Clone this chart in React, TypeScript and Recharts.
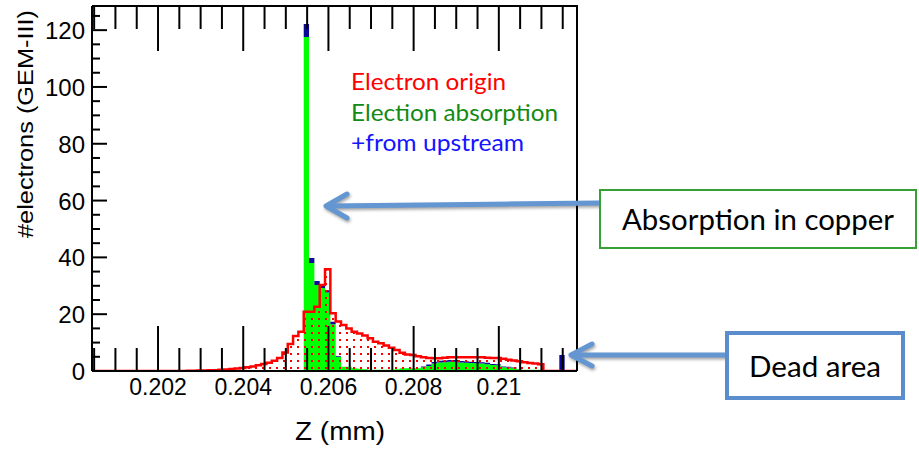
import React from 'react';
import { ComposedChart, Area, XAxis, YAxis } from 'recharts';

// ---------- data ----------
const BIN_START = 0.20042;
const BIN_WIDTH = 0.000125;

const electronOrigin = [
  0, 0, 0, 0, 0, 0, 0, 0, 0, 0, 0, 0, 0, 0, 0, 0, 0, 0,
  0.1, 0.1, 0.2, 0.2, 0.3, 0.3, 0.4, 0.5, 0.7, 0.9, 1.1, 1.3, 1.6, 2.0, 2.5, 2.9, 3.6, 4.6, 6.5, 9.5, 12.3, 13.8,
  20.9, 20.9, 22.6, 30.3, 35.8, 20.3, 17.4, 16.2, 15.0, 13.8, 13.2, 12.5, 11.5, 10.3, 9.8, 9.0, 8.2, 7.4, 6.4, 5.8, 5.6, 5.2, 4.8, 4.6, 4.5, 4.5, 4.7,
  4.8, 4.8, 4.8, 4.8, 4.8, 4.8, 4.8,
  4.7, 4.6, 4.6, 4.3, 4.0, 3.7, 3.4, 3.1, 2.8, 2.6, 2.4,
  0, 0, 0, 0, 0, 0, 0,
];

const electionAbsorption = [
  0, 0, 0, 0, 0, 0, 0, 0, 0, 0, 0, 0, 0, 0, 0, 0, 0, 0, 0,
  0.2, 0.2, 0.2, 0.2,
  0, 0, 0, 0, 0, 0, 0,
  0.3, 0.3, 0.3, 0.3, 0.3, 0.3, 0.3, 0.3, 0.3, 0.3,
  117.6, 38.0, 30.3, 29.2, 27.6, 16.5, 5.0, 1.5, 1.5, 1.0, 0.8, 0.6,
  0.4, 0.4, 0.4, 0.4, 0.4,
  0.6,
  1.0, 1.0, 1.0, 1.0,
  1.3, 1.8, 2.6, 3.0, 3.1, 3.3, 3.3, 3.0, 2.9, 2.8, 2.7, 2.6, 2.4, 2.1, 2.0, 1.3, 1.2, 1.0, 0.5,
  0.4, 0.4, 0.4, 0.4,
  0, 0, 0, 0, 0, 0, 0,
];

const fromUpstream = [
  0, 0, 0, 0, 0, 0, 0, 0, 0, 0, 0, 0, 0, 0, 0, 0, 0, 0, 0, 0,
  0, 0, 0, 0, 0, 0, 0, 0, 0, 0, 0, 0, 0, 0, 0, 0, 0, 0, 0, 0,
  4.6, 1.8, 1.4, 0.7, 0.8, 0.8, 0.3,
  0, 0, 0, 0, 0, 0, 0, 0, 0, 0, 0, 0, 0, 0, 0,
  0.3, 0.5, 0.6, 0.6, 0.6, 0.6, 0.6, 0.5, 0.5, 0.5, 0.5, 0.5, 0.5, 0.4, 0.4, 0.3, 0.3, 0.2, 0.1,
  0, 0, 0, 0, 0, 0, 0,
  5.6,
  0, 0, 0,
];

const xTicks = [
  0.2005, 0.201, 0.2015, 0.202, 0.2025, 0.203, 0.2035, 0.204, 0.2045, 0.205, 0.2055, 0.206,
  0.2065, 0.207, 0.2075, 0.208, 0.2085, 0.209, 0.2095, 0.21, 0.2105, 0.211, 0.2115,
];
const xMajorTicks = [0.202, 0.204, 0.206, 0.208, 0.21];
const xTickLabels = ['0.202', '0.204', '0.206', '0.208', '0.21'];

const yTicks = [0, 5, 10, 15, 20, 25, 30, 35, 40, 45, 50, 55, 60, 65, 70, 75, 80, 85, 90, 95, 100, 105, 110, 115, 120, 125];
const yMajorTicks = [0, 20, 40, 60, 80, 100, 120];

const legendLabels = ['Electron origin', 'Election absorption', '+from upstream'];
const xTitle = 'Z (mm)';
const yTitle = '#electrons (GEM-III)';
const noteCopper = 'Absorption in copper';
const noteDead = 'Dead area';

const X_DOMAIN: [number, number] = [0.20045, 0.211835];
const Y_DOMAIN: [number, number] = [0, 128.5];

const data = electronOrigin.map((v, i) => ({
  z: BIN_START + i * BIN_WIDTH,
  origin: v,
  absorption: electionAbsorption[i],
  upstream: fromUpstream[i],
}));
data.push({ z: BIN_START + electronOrigin.length * BIN_WIDTH, origin: 0, absorption: 0, upstream: 0 });

// ---------- layout ----------
const W = 919;
const H = 449;
const PLOT_LEFT = 92;
const PLOT_RIGHT = 577;
const PLOT_TOP = 6;
const PLOT_BOTTOM = 371;
const AXIS_FONT = '"Liberation Sans", Arial, Helvetica, sans-serif';
const NOTE_FONT = 'Lato, "Open Sans", sans-serif';

const XTick = (props: any) => {
  const { x, payload } = props;
  const v = payload.value;
  const idx = xMajorTicks.findIndex((m) => Math.abs(m - v) < 1e-9);
  const major = idx >= 0;
  const len = major ? 45 : 23;
  return (
    <g>
      <line x1={x} x2={x} y1={PLOT_BOTTOM} y2={PLOT_BOTTOM - len} stroke="#000" strokeWidth={2} />
      <line x1={x} x2={x} y1={PLOT_TOP} y2={PLOT_TOP + len} stroke="#000" strokeWidth={2} />
      {major && (
        <text x={x} y={PLOT_BOTTOM + 24} textAnchor="middle" fontFamily={AXIS_FONT} fontSize={23} fill="#000">
          {xTickLabels[idx]}
        </text>
      )}
    </g>
  );
};

const YTick = (props: any) => {
  const { y, payload } = props;
  const v = payload.value;
  const major = yMajorTicks.includes(v);
  return (
    <g>
      <line x1={PLOT_LEFT} x2={PLOT_LEFT + (major ? 15 : 8)} y1={y} y2={y} stroke="#000" strokeWidth={2} />
      {major && (
        <text x={85} y={y + 9} textAnchor="end" fontFamily={AXIS_FONT} fontSize={24} fill="#000">
          {v}
        </text>
      )}
    </g>
  );
};

const ARROW = '#6496d2';

export default function App() {
  return (
    <div style={{ position: 'absolute', left: 0, top: 0, width: W, height: H, background: '#fff', overflow: 'hidden' }}>
      <ComposedChart
        width={W}
        height={H}
        data={data}
        margin={{ top: PLOT_TOP, right: W - PLOT_RIGHT, bottom: 0, left: 0 }}
      >
        <defs>
          <pattern id="redDots" width={7} height={7} patternUnits="userSpaceOnUse">
            <rect x={3} y={3} width={2} height={2} fill="#ff0000" />
          </pattern>
        </defs>
        <XAxis
          dataKey="z"
          type="number"
          domain={X_DOMAIN}
          ticks={xTicks}
          interval={0}
          allowDataOverflow
          height={H - PLOT_BOTTOM}
          tickLine={false}
          tick={XTick}
          axisLine={{ stroke: '#000', strokeWidth: 2 }}
        />
        <YAxis
          type="number"
          domain={Y_DOMAIN}
          ticks={yTicks}
          interval={0}
          allowDataOverflow
          width={PLOT_LEFT}
          tickLine={false}
          tick={YTick}
          axisLine={{ stroke: '#000', strokeWidth: 2 }}
        />
        <Area type="stepAfter" dataKey="absorption" stackId="h" stroke="none" fill="#00ff00" fillOpacity={1} isAnimationActive={false} />
        <Area type="stepAfter" dataKey="upstream" stackId="h" stroke="none" fill="#0a0a96" fillOpacity={1} isAnimationActive={false} />
        <Area type="stepAfter" dataKey="origin" stroke="#ff0000" strokeWidth={2.5} fill="url(#redDots)" fillOpacity={1} isAnimationActive={false} />
      </ComposedChart>

      <svg width={W} height={H} style={{ position: 'absolute', left: 0, top: 0, pointerEvents: 'none' }}>
        {/* frame top/right */}
        <polyline points={`${PLOT_LEFT},${PLOT_TOP} ${PLOT_RIGHT},${PLOT_TOP} ${PLOT_RIGHT},${PLOT_BOTTOM}`} fill="none" stroke="#000" strokeWidth={2} />

        {/* axis titles */}
        <text x={340} y={440} textAnchor="middle" fontFamily={AXIS_FONT} fontSize={25} textLength={90} lengthAdjust="spacingAndGlyphs" fill="#000">
          {xTitle}
        </text>
        <text
          x={32.5}
          y={124}
          transform="rotate(-90 32.5 124)"
          textAnchor="middle"
          fontFamily={AXIS_FONT}
          fontSize={22}
          textLength={228}
          lengthAdjust="spacingAndGlyphs"
          fill="#000"
        >
          {yTitle}
        </text>

        {/* legend */}
        <text x={351} y={90} fontFamily={NOTE_FONT} fontSize={23} textLength={155} lengthAdjust="spacingAndGlyphs" fill="#ff0000">
          {legendLabels[0]}
        </text>
        <text x={351} y={121} fontFamily={NOTE_FONT} fontSize={23} textLength={207} lengthAdjust="spacingAndGlyphs" fill="#138a13">
          {legendLabels[1]}
        </text>
        <text x={351} y={151} fontFamily={NOTE_FONT} fontSize={23} textLength={173} lengthAdjust="spacingAndGlyphs" fill="#1414ff">
          {legendLabels[2]}
        </text>

        {/* arrows */}
        <g style={{ filter: 'drop-shadow(1px 2px 1.5px rgba(0,0,0,0.35))' }}>
          <line x1={600} y1={203} x2={328} y2={206} stroke={ARROW} strokeWidth={5} strokeLinecap="round" />
          <polyline points="347,194 326,206 347,218" fill="none" stroke={ARROW} strokeWidth={5} strokeLinecap="round" strokeLinejoin="round" />
          <line x1={727} y1={355} x2={573} y2={355} stroke={ARROW} strokeWidth={5} strokeLinecap="round" />
          <polyline points="592,344 571,355 592,366" fill="none" stroke={ARROW} strokeWidth={5} strokeLinecap="round" strokeLinejoin="round" />
        </g>

        {/* note boxes */}
        <rect x={600} y={190} width={316} height={58} fill="#fff" stroke="#35a035" strokeWidth={2} />
        <text x={758} y={230} textAnchor="middle" fontFamily={NOTE_FONT} fontSize={28} textLength={272} lengthAdjust="spacingAndGlyphs" fill="#000">
          {noteCopper}
        </text>
        <rect x={727} y={333} width={176} height={65} fill="#fff" stroke="#5b8ccb" strokeWidth={4} />
        <text x={815} y={377} textAnchor="middle" fontFamily={NOTE_FONT} fontSize={28} textLength={132} lengthAdjust="spacingAndGlyphs" fill="#000">
          {noteDead}
        </text>
      </svg>
    </div>
  );
}
